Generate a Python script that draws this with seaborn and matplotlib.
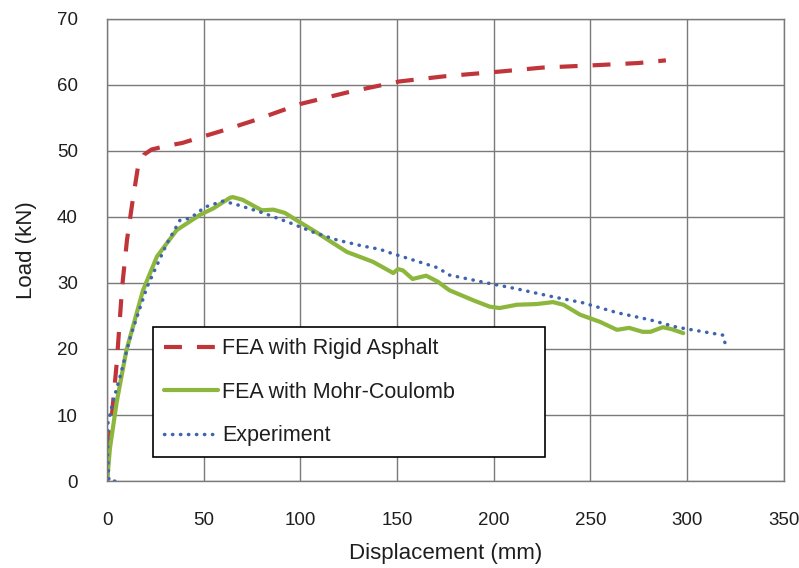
import numpy as np
import pandas as pd
import matplotlib
matplotlib.use('Agg')
import matplotlib.pyplot as plt
import seaborn as sns

# FEA with rigid asphalt
rigid_x = [0, 1, 2.6, 5, 7.8, 10.3, 13, 16, 19, 23, 30, 39, 50, 58, 75, 100, 125, 151, 175, 203, 225, 255, 275, 289]
rigid_y = [0, 5, 10.3, 17.9, 29.4, 36.5, 42, 47.6, 49.4, 50.2, 50.7, 51.2, 52.2, 52.9, 54.5, 57.1, 58.9, 60.5, 61.3, 62, 62.6, 63, 63.3, 63.7]

# FEA with Mohr-Coulomb
mc_x = [0, 1.5, 5, 10, 18.6, 25.8, 36, 48, 55, 63.6, 65, 70, 75, 80, 86, 92, 98, 108.6, 116, 124, 137.5, 148, 150.5, 153, 158, 165, 171,
        177, 190, 198, 203, 212, 222, 230.6, 236, 244.6, 255, 263.7, 270, 277, 281, 287.5, 292, 298]
mc_y = [0, 5, 12, 19.8, 28.9, 34, 38, 40.3, 41.3, 42.9, 43, 42.6, 41.8, 41, 41.1, 40.6, 39.5, 37.6, 36.2, 34.7, 33.2, 31.5, 32.1, 31.9, 30.6, 31.1, 30.2,
        28.9, 27.3, 26.4, 26.2, 26.7, 26.8, 27.1, 26.7, 25.2, 24.1, 22.9, 23.2, 22.6, 22.6, 23.3, 23, 22.4]

# Experiment
exp_x = [4, 1, 0.3, 0.5, 3, 6.7, 12, 20.7, 31, 37.7, 43, 50.7, 60, 67.7, 80.7, 94.6, 106.5, 119, 132, 141, 147, 158, 171,
         177, 196.5, 212, 229, 246, 263.7, 281, 294.7, 306.6, 318.5, 319, 320.5]
exp_y = [0, 0, 4, 8.8, 12, 15.8, 21.8, 29.4, 36, 39.5, 39.8, 41.5, 42.4, 41.8, 40.6, 39.1, 37.7, 36.5, 35.6, 35.1, 34.5, 33.5, 32.3,
         31.2, 30, 29.1, 28, 27, 25.5, 24.4, 23.3, 22.7, 22.1, 21.4, 20.2]

labels = ['FEA with Rigid Asphalt', 'FEA with Mohr-Coulomb', 'Experiment']

sns.set_style('white')
plt.rcParams['font.family'] = ['Liberation Sans', 'DejaVu Sans']

fig = plt.figure(figsize=(7.99, 5.68), dpi=100)
ax = fig.add_axes([0.134, 0.153, 0.847, 0.814])

grid_c = '#7a7a7a'
txt_c = '#1e1e1e'
ax.set_axisbelow(True)
ax.grid(True, color=grid_c, linewidth=1.0)

sns.lineplot(x=rigid_x, y=rigid_y, sort=False, ax=ax, color='#C0353A', linewidth=3.0, label=labels[0])
sns.lineplot(x=mc_x, y=mc_y, sort=False, ax=ax, color='#8DB63C', linewidth=3.0, label=labels[1])
sns.lineplot(x=exp_x, y=exp_y, sort=False, ax=ax, color='#3F64AE', linewidth=2.5, label=labels[2])

lines = ax.get_lines()
lines[0].set_linestyle((0, (4.3, 3.6)))
lines[2].set_linestyle((0, (0.1, 2.2)))
lines[2].set_dash_capstyle('round')

ax.set_xlim(0, 350)
ax.set_ylim(0, 70)
ax.set_xticks(np.arange(0, 351, 50))
ax.set_yticks(np.arange(0, 71, 10))
ax.tick_params(axis='both', direction='out', length=7, width=1, color=grid_c,
               labelsize=13.5, labelcolor=txt_c)
ax.tick_params(axis='x', pad=15)
ax.tick_params(axis='y', pad=14)
for s in ax.spines.values():
    s.set_color(grid_c)
    s.set_linewidth(1.0)

ax.set_xlabel('Displacement (mm)', fontsize=16, color=txt_c, labelpad=10)
ax.set_ylabel('Load (kN)', fontsize=16, color=txt_c, labelpad=14)

handles, labs = ax.get_legend_handles_labels()
handles[0].set_linestyle((0, (4.3, 3.6)))
handles[2].set_linestyle((0, (0.1, 2.2)))
handles[2].set_dash_capstyle('round')
leg = ax.legend(handles, labs, loc='lower left', bbox_to_anchor=(0.068, 0.052, 0.579, 0.28),
                mode='expand', fontsize=15.5, frameon=True, fancybox=False, handlelength=2.5,
                handletextpad=0.22, labelspacing=1.05, borderpad=0.5, borderaxespad=0)
leg.get_frame().set_edgecolor('black')
leg.get_frame().set_linewidth(1.2)
leg.get_frame().set_alpha(1)
for t in leg.get_texts():
    t.set_color(txt_c)

fig.savefig('out.png', dpi=100)
